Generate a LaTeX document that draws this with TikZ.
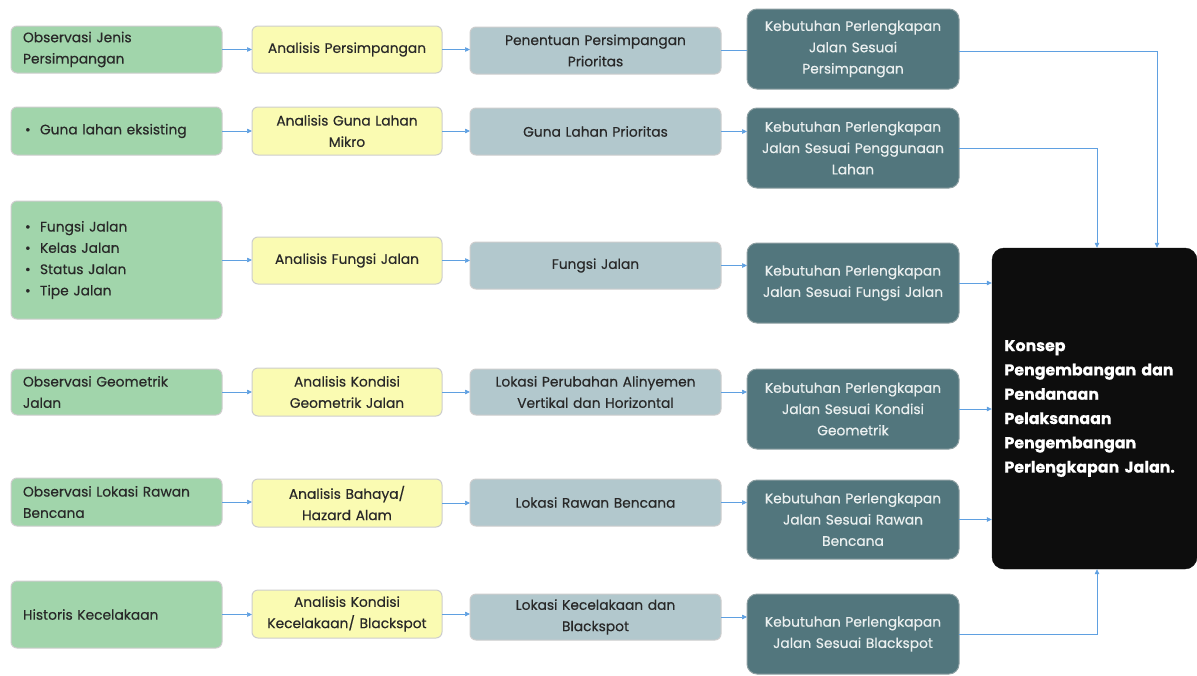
\documentclass[tikz,border=0pt]{standalone}
\usepackage{fontspec}
\setmainfont{Poppins}[FakeBold=0.4]
\usetikzlibrary{arrows.meta}
\definecolor{cgreen}{RGB}{161,213,171}
\definecolor{cyellow}{RGB}{250,251,178}
\definecolor{cgrey}{RGB}{178,200,205}
\definecolor{cteal}{RGB}{82,118,125}
\definecolor{cblack}{RGB}{13,13,13}
\definecolor{carrow}{RGB}{95,160,225}
\definecolor{ctext}{RGB}{40,40,40}
\definecolor{cedge}{RGB}{205,205,205}
\definecolor{cwhite}{RGB}{235,240,240}
\tikzset{
  basebox/.style={rounded corners=6pt, inner sep=0pt, outer sep=0pt, text=ctext,
    font=\fontsize{13.8}{21.3}\selectfont, draw=cedge, line width=1pt},
  gbox/.style={basebox, fill=cgreen, text width=187pt, align=left, minimum width=211pt},
  ybox/.style={basebox, fill=cyellow, text width=184pt, align=center, minimum width=190pt},
  rbox/.style={basebox, fill=cgrey, text width=245pt, align=center, minimum width=251pt},
  tbox/.style={basebox, fill=cteal, draw=cteal!80!black!60, text=cwhite, rounded corners=10pt,
    text width=206pt, align=center, minimum width=212pt},
  kbox/.style={rounded corners=12pt, fill=cblack, draw=cblack, text=white, inner sep=0pt,
    font=\fontsize{15.8}{24.3}\selectfont\bfseries, text width=180pt, align=left,
    minimum width=205pt, minimum height=321pt},
  arr/.style={draw=carrow, line width=0.7pt, -{Triangle[length=5pt,width=4.5pt]}},
  lin/.style={draw=carrow, line width=0.7pt},
}
\newcommand{\bul}[1]{\makebox[17pt][l]{\hspace{2pt}•}#1}
\begin{document}
\begin{tikzpicture}
\useasboundingbox (0,0) rectangle (1197pt,-675pt);
% green
\node[gbox, minimum height=47pt] (g1) at (116.5pt,-49.5pt) {Observasi Jenis\\Persimpangan};
\node[gbox, minimum height=48pt] (g2) at (116.5pt,-131pt) {\bul{Guna lahan eksisting}};
\node[gbox, minimum height=118pt] (g3) at (116.5pt,-260pt) {\bul{Fungsi Jalan}\\\bul{Kelas Jalan}\\\bul{Status Jalan}\\\bul{Tipe Jalan}};
\node[gbox, minimum height=46pt] (g4) at (116.5pt,-392pt) {Observasi Geometrik\\Jalan};
\node[gbox, minimum height=48pt] (g5) at (116.5pt,-502pt) {Observasi Lokasi Rawan\\Bencana};
\node[gbox, minimum height=67pt] (g6) at (116.5pt,-614.5pt) {Historis Kecelakaan};
% yellow
\node[ybox, minimum height=47pt] (y1) at (347pt,-49.5pt) {Analisis Persimpangan};
\node[ybox, minimum height=48pt] (y2) at (347pt,-131pt) {Analisis Guna Lahan\\Mikro};
\node[ybox, minimum height=47pt] (y3) at (347pt,-260.5pt) {Analisis Fungsi Jalan};
\node[ybox, minimum height=48pt] (y4) at (347pt,-392pt) {Analisis Kondisi\\Geometrik Jalan};
\node[ybox, minimum height=48pt] (y5) at (347pt,-503pt) {Analisis Bahaya/\\Hazard Alam};
\node[ybox, minimum height=48pt] (y6) at (347pt,-614pt) {Analisis Kondisi\\Kecelakaan/ Blackspot};
% grey
\node[rbox, minimum height=47pt] (r1) at (595.5pt,-50.5pt) {Penentuan Persimpangan\\Prioritas};
\node[rbox, minimum height=47pt] (r2) at (595.5pt,-131.5pt) {Guna Lahan Prioritas};
\node[rbox, minimum height=47pt] (r3) at (595.5pt,-265.5pt) {Fungsi Jalan};
\node[rbox, minimum height=46pt] (r4) at (595.5pt,-392pt) {Lokasi Perubahan Alinyemen\\Vertikal dan Horizontal};
\node[rbox, minimum height=47pt] (r5) at (595.5pt,-502.5pt) {Lokasi Rawan Bencana};
\node[rbox, minimum height=46pt] (r6) at (595.5pt,-617pt) {Lokasi Kecelakaan dan\\Blackspot};
% teal
\node[tbox, minimum height=80pt] (t1) at (853pt,-49pt) {Kebutuhan Perlengkapan\\Jalan Sesuai\\Persimpangan};
\node[tbox, minimum height=80pt] (t2) at (853pt,-148pt) {Kebutuhan Perlengkapan\\Jalan Sesuai Penggunaan\\Lahan};
\node[tbox, minimum height=80pt] (t3) at (853pt,-283pt) {Kebutuhan Perlengkapan\\Jalan Sesuai Fungsi Jalan};
\node[tbox, minimum height=80pt] (t4) at (853pt,-409pt) {Kebutuhan Perlengkapan\\Jalan Sesuai Kondisi\\Geometrik};
\node[tbox, minimum height=79pt] (t5) at (853pt,-519.5pt) {Kebutuhan Perlengkapan\\Jalan Sesuai Rawan\\Bencana};
\node[tbox, minimum height=80pt] (t6) at (853pt,-634pt) {Kebutuhan Perlengkapan\\Jalan Sesuai Blackspot};
% black
\node[kbox] (k) at (1094.5pt,-408.5pt) {Konsep\\Pengembangan dan\\Pendanaan\\Pelaksanaan\\Pengembangan\\Perlengkapan Jalan.};
% arrows green -> yellow -> grey
\foreach \i in {1,...,6} {
  \draw[arr] (g\i.east) -- (g\i.east -| y\i.west);
  \draw[arr] (y\i.east) -- (y\i.east -| r\i.west);
}
\draw[lin] (r1.east) -- (r1.east -| t1.west);
\foreach \i in {2,...,6} {
  \draw[arr] (r\i.east) -- (r\i.east -| t\i.west);
}
% teal -> black
\draw[arr] ([yshift=-2pt]t1.east) -| ([xshift=62.5pt]k.north);
\draw[arr] (t2.east) -| ([xshift=2.5pt]k.north);
\draw[arr] (t3.east) -- (t3.east -| k.west);
\draw[arr] (t4.east) -- (t4.east -| k.west);
\draw[arr] (t5.east) -- (t5.east -| k.west);
\draw[arr] (t6.east) -| ([xshift=2.5pt]k.south);
\end{tikzpicture}
\end{document}
